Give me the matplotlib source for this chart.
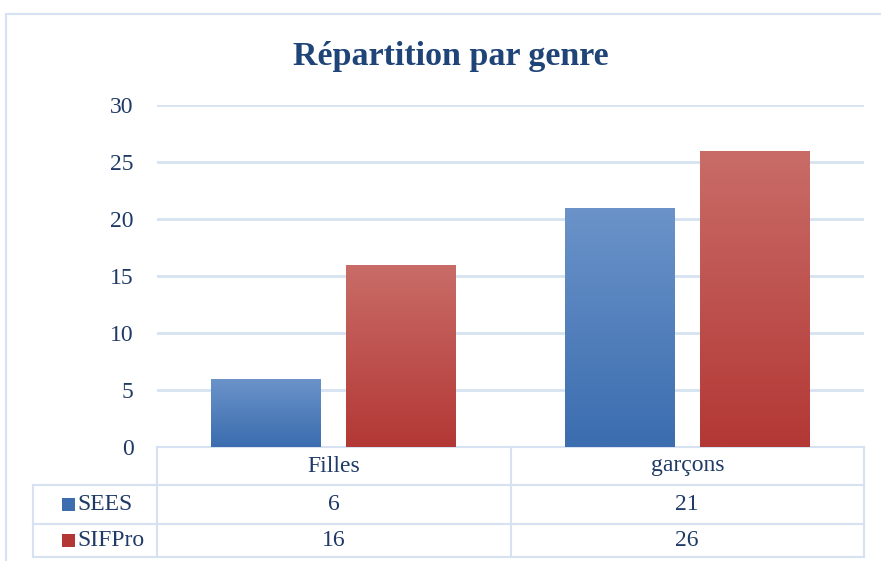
import numpy as np
import matplotlib.pyplot as plt
from matplotlib.patches import Rectangle
from matplotlib.transforms import blended_transform_factory
from matplotlib import font_manager
from matplotlib.colors import to_rgb

categories = ["Filles", "garçons"]
series_names = ["SEES", "SIFPro"]
sees = [6, 21]
sifpro = [16, 26]
yticks = [0, 5, 10, 15, 20, 25, 30]

# pick a condensed serif if available
names = {f.name for f in font_manager.fontManager.ttflist}
serif = [n for n in ["DejaVu Serif Condensed", "Liberation Serif", "DejaVu Serif"] if n in names]
plt.rcParams["font.family"] = serif

text_col = "#1F3A66"
grid_col = "#D6E2F1"
grads = [("#6B93C9", "#3B6DAF"), ("#C96C68", "#B33835")]
fs = 17

fig = plt.figure(figsize=(8.81, 5.61), dpi=100)
W, H = 881, 561
ax = fig.add_axes([157 / W, (H - 447) / H, (864 - 157) / W, (447 - 105) / H])

# outer frame
fig.patches.append(Rectangle((6 / W, -0.1), 1.2, (H - 14) / H + 0.1, transform=fig.transFigure,
                             fill=False, edgecolor=grid_col, lw=1.5))

x = np.arange(len(categories))
bw = 0.311
offs = [-0.1915, 0.1915]


def gradient_fill(patch, c_top, c_bot):
    x0, y0 = patch.get_x(), patch.get_y()
    w, h = patch.get_width(), patch.get_height()
    top = np.array(to_rgb(c_top))
    bot = np.array(to_rgb(c_bot))
    t = np.linspace(0, 1, 100)[:, None]
    img = (top * (1 - t) + bot * t)[:, None, :]
    im = ax.imshow(img, extent=[x0, x0 + w, y0, y0 + h], aspect="auto", zorder=3,
                   interpolation="bilinear")
    im.set_clip_path(patch)


for vals, off, (ct, cb) in zip([sees, sifpro], offs, grads):
    bars = ax.bar(x + off, vals, bw, color="none", edgecolor="none", zorder=3)
    for b in bars:
        gradient_fill(b, ct, cb)

ax.set_xlim(-0.5, 1.5)
ax.set_ylim(0, 30)
ax.set_yticks(yticks)
ax.set_yticklabels([str(v) for v in yticks], fontsize=fs, color=text_col)
ax.tick_params(axis="y", length=0, pad=17)
ax.set_xticks([])
for s in ax.spines.values():
    s.set_visible(False)
ax.grid(axis="y", color=grid_col, lw=2)
ax.set_axisbelow(True)

fig.text(451 / W, (H - 56) / H, "Répartition par genre", fontsize=24.5, fontweight="bold",
         color="#1F4478", ha="center", va="center")

# data table below the axes
tr = blended_transform_factory(ax.transData, ax.transAxes)
px = 1 / (447 - 105)
rows_y = [0, -38 * px, -77 * px, -110 * px]
x_left = -0.5 - (157 - 33) / 353.5
line_kw = dict(transform=tr, color=grid_col, lw=1.5, clip_on=False)
# horizontal lines
ax.plot([-0.5, 1.5], [rows_y[0]] * 2, **line_kw)
for yy in rows_y[1:]:
    ax.plot([x_left, 1.5], [yy] * 2, **line_kw)
# vertical lines
for xx in [-0.5, 0.5, 1.5]:
    ax.plot([xx, xx], [rows_y[0], rows_y[3]], **line_kw)
ax.plot([x_left, x_left], [rows_y[1], rows_y[3]], **line_kw)

for i, c in enumerate(categories):
    ax.text(x[i], (rows_y[0] + rows_y[1]) / 2, c, transform=tr, ha="center", va="center",
            fontsize=fs, color=text_col)

for r, (name, vals, (ct, cb)) in enumerate(zip(series_names, [sees, sifpro], grads)):
    yc = (rows_y[r + 1] + rows_y[r + 2]) / 2
    sq_w = 13 / 353.5
    sq_h = 13 * px
    sx = x_left + (62 - 33) / 353.5
    sq = Rectangle((sx, yc - sq_h / 2), sq_w, sq_h, transform=tr, facecolor=cb,
                   edgecolor="none", clip_on=False)
    ax.add_patch(sq)
    ax.text(sx + sq_w + 2 / 353.5, yc, name, transform=tr, ha="left", va="center",
            fontsize=fs, color=text_col)
    for i, v in enumerate(vals):
        ax.text(x[i], yc, str(v), transform=tr, ha="center", va="center",
                fontsize=fs, color=text_col)

fig.savefig("out.png", dpi=100)
